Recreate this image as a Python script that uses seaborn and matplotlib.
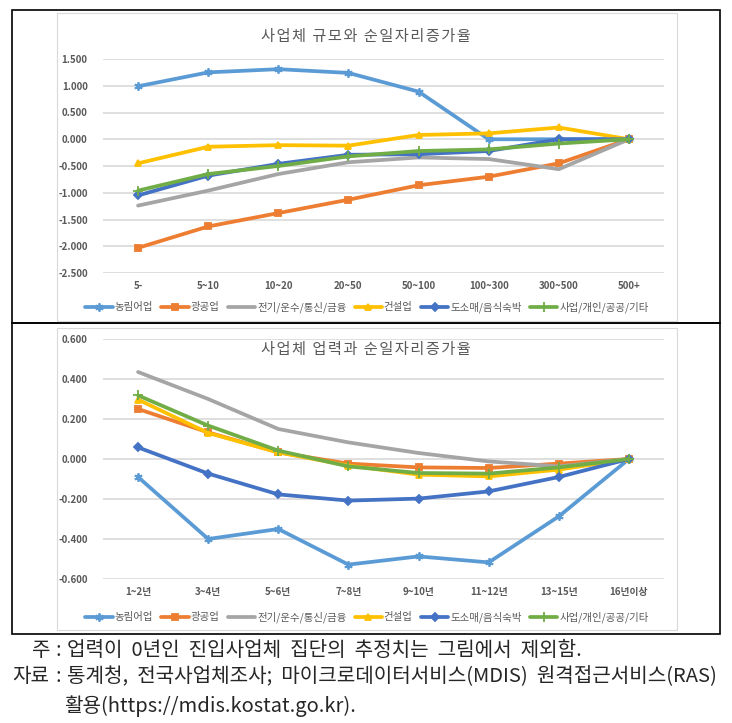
import matplotlib
matplotlib.use("Agg")
import matplotlib.pyplot as plt
import matplotlib.patches as mpatches
import seaborn as sns

sns.set_style("white")
plt.rcParams["font.family"] = ["Noto Sans CJK KR", "DejaVu Sans"]

# ── Data ───────────────────────────────────────────────────────────────────
SERIES = ["농림어업", "광공업", "전기/운수/통신/금융", "건설업", "도소매/음식숙박", "사업/개인/공공/기타"]
COLORS = ["#5B9BD5", "#ED7D31", "#A5A5A5", "#FFC000", "#4472C4", "#70AD47"]
MARKERS = [(6, 2, 0), "s", None, "^", "D", "+"]
MSIZE = [6, 5, 0, 5, 4, 7]

size_cats = ["5-", "5~10", "10~20", "20~50", "50~100", "100~300", "300~500", "500+"]
size_agri = [0.99, 1.25, 1.31, 1.24, 0.89, 0.00, 0.00, 0.00]
size_mining = [-2.03, -1.63, -1.38, -1.13, -0.86, -0.70, -0.45, 0.00]
size_util = [-1.24, -0.96, -0.65, -0.43, -0.34, -0.37, -0.56, 0.00]
size_constr = [-0.45, -0.14, -0.11, -0.12, 0.08, 0.11, 0.22, 0.00]
size_retail = [-1.05, -0.68, -0.46, -0.29, -0.28, -0.22, 0.00, 0.00]
size_service = [-0.96, -0.65, -0.50, -0.32, -0.22, -0.19, -0.08, 0.00]

age_cats = ["1~2년", "3~4년", "5~6년", "7~8년", "9~10년", "11~12년", "13~15년", "16년이상"]
age_agri = [-0.090, -0.400, -0.350, -0.528, -0.487, -0.517, -0.287, 0.000]
age_mining = [0.250, 0.133, 0.033, -0.023, -0.042, -0.045, -0.023, 0.000]
age_util = [0.435, 0.300, 0.150, 0.083, 0.030, -0.012, -0.037, 0.000]
age_constr = [0.297, 0.130, 0.033, -0.033, -0.078, -0.087, -0.053, 0.000]
age_retail = [0.058, -0.073, -0.177, -0.208, -0.198, -0.162, -0.090, 0.000]
age_service = [0.318, 0.167, 0.042, -0.037, -0.070, -0.073, -0.042, 0.000]

W, H = 732, 723
fig = plt.figure(figsize=(W / 100, H / 100), dpi=100)


def fx(px):
    return px / W


def fy(py):
    return 1 - py / H


def spaced(s):
    # Excel-style letter tracking
    return "\u200a".join(s)


# outer table box + inner chart frames
for (x0, y0, x1, y1, col, lw) in [(12, 10, 720, 323, "black", 1.2), (12, 323, 720, 634, "black", 1.2),
                                   (57, 13, 677, 321, "#d9d9d9", 0.8), (57, 328, 677, 630, "#d9d9d9", 0.8)]:
    fig.patches.append(mpatches.Rectangle((fx(x0), fy(y1)), fx(x1) - fx(x0), fy(y0) - fy(y1),
                                          transform=fig.transFigure, fill=False, ec=col, lw=lw))


def draw(ax, cats, data, ylim, yticks, title, title_y, legend_y):
    for name, vals, c, m, ms in zip(SERIES, data, COLORS, MARKERS, MSIZE):
        sns.lineplot(x=cats, y=vals, ax=ax, sort=False, color=c, lw=2.7, label=name,
                     marker=m, markersize=ms, markeredgecolor=c, markerfacecolor=c, mew=1.3)
    ax.set_xlim(-0.5, len(cats) - 0.5)
    ax.set_ylim(*ylim)
    ax.set_yticks(yticks)
    ax.set_yticklabels([f"{v:.3f}" for v in yticks])
    ax.grid(axis="y", color="#d9d9d9", lw=1.2)
    ax.set_axisbelow(True)
    for s in ax.spines.values():
        s.set_visible(False)
    ax.tick_params(length=0, labelsize=7, labelcolor="#595959")
    ax.tick_params(axis="y", pad=11)
    ax.tick_params(axis="x", pad=6)
    for t in ax.get_xticklabels() + ax.get_yticklabels():
        t.set_fontweight("bold")
    ax.set_xlabel("")
    ax.set_ylabel("")
    fig.text(fx(366), fy(title_y), spaced(title), ha="center", va="center", fontsize=11, color="#595959")
    ax.legend(loc="center", bbox_to_anchor=(fx(367), fy(legend_y)), bbox_transform=fig.transFigure,
              ncol=6, frameon=False, fontsize=7.5, handlelength=2.6, columnspacing=0.8,
              handletextpad=0.2, labelcolor="#595959")


ax1 = fig.add_axes([fx(103), fy(273), fx(664) - fx(103), fy(59) - fy(273)])
draw(ax1, size_cats, [size_agri, size_mining, size_util, size_constr, size_retail, size_service],
     (-2.5, 1.5), [1.5, 1.0, 0.5, 0.0, -0.5, -1.0, -1.5, -2.0, -2.5],
     "사업체 규모와 순일자리증가율", 36, 307)

ax2 = fig.add_axes([fx(103), fy(579), fx(664) - fx(103), fy(339) - fy(579)])
draw(ax2, age_cats, [age_agri, age_mining, age_util, age_constr, age_retail, age_service],
     (-0.6, 0.6), [0.6, 0.4, 0.2, 0.0, -0.2, -0.4, -0.6],
     "사업체 업력과 순일자리증가율", 349, 617)

# notes under the table
NOTE_FS = 14.5
fig.text(fx(32), fy(650), "주", ha="left", va="center", fontsize=NOTE_FS)
fig.text(fx(12), fy(677), "자료", ha="left", va="center", fontsize=NOTE_FS)
fig.text(fx(58), fy(650), ":", ha="center", va="center", fontsize=NOTE_FS)
fig.text(fx(58), fy(677), ":", ha="center", va="center", fontsize=NOTE_FS)
fig.text(fx(67), fy(650), "업력이  0년인  진입사업체  집단의  추정치는  그림에서  제외함.",
         ha="left", va="center", fontsize=NOTE_FS)
fig.text(fx(67), fy(677), "통계청,  전국사업체조사;  마이크로데이터서비스(MDIS)  원격접근서비스(RAS)",
         ha="left", va="center", fontsize=NOTE_FS)
fig.text(fx(64), fy(706), "활용(https://mdis.kostat.go.kr).",
         ha="left", va="center", fontsize=NOTE_FS)

fig.savefig("out.png", dpi=100)
